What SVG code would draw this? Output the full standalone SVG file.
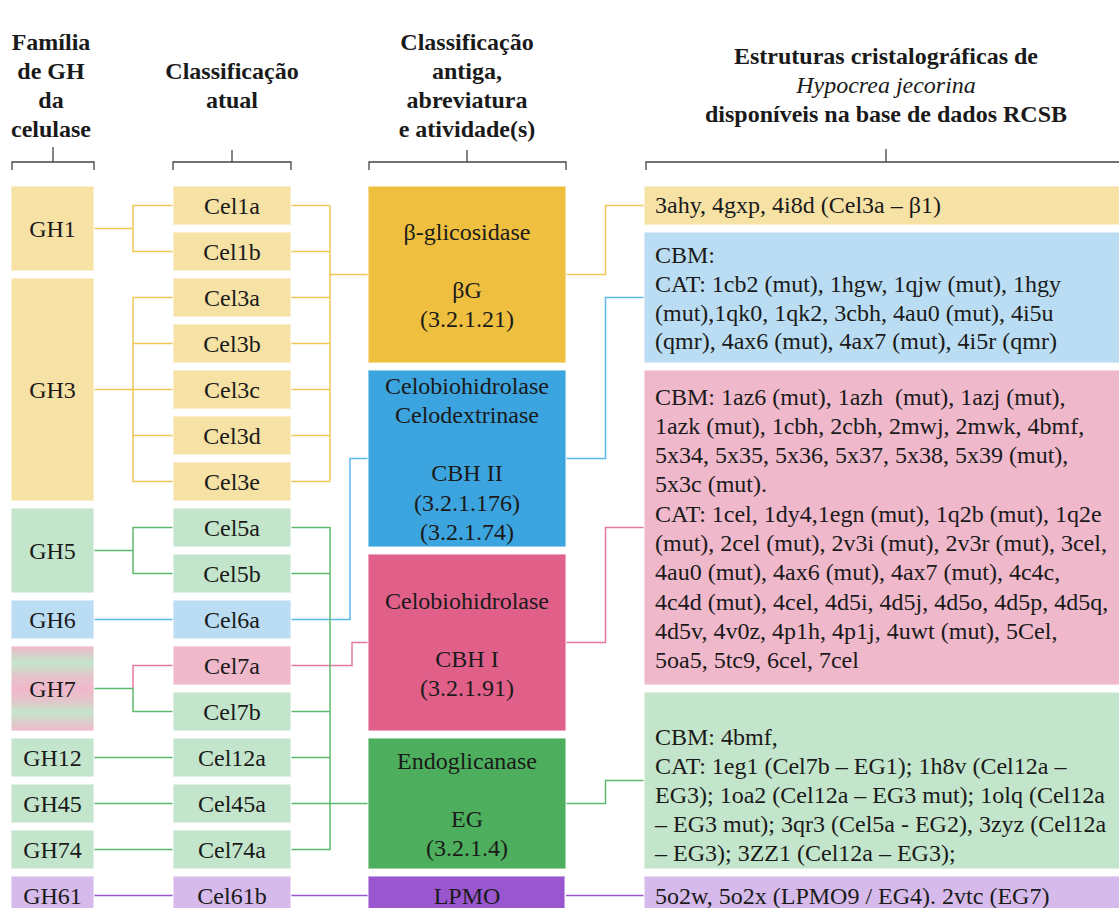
<svg xmlns="http://www.w3.org/2000/svg" width="1119" height="908" viewBox="0 0 1119 908">
<style>
text{font-family:"Liberation Serif","Tinos","DejaVu Serif",serif;font-size:24px;fill:#1a1a1a}
.h{font-weight:bold}
.c{text-anchor:middle}
.br{fill:none;stroke:#444;stroke-width:1.3}
.box{stroke:#fff;stroke-width:1.5;stroke-opacity:0.6}
.y1{fill:#F7E2A6}.y2{fill:#EFBF3F}
.b1{fill:#BADDF3}.b2{fill:#3CA4DF}
.p1{fill:#F0B8CB}.p2{fill:#E0608A}
.g1{fill:#C3E5CB}.g2{fill:#4DAE5D}
.v1{fill:#D6BAEB}.v2{fill:#9A56CE}
.ln{fill:none;stroke-width:1.5}
.ly{stroke:#F0C655}.lb{stroke:#5BB8EC}.lp{stroke:#E8799E}.lg{stroke:#5DBA6C}.lv{stroke:#9A56CE}
</style>
<defs>
<linearGradient id="gh7" x1="0" y1="0" x2="0" y2="1">
<stop offset="0" stop-color="#F0B8CB"/>
<stop offset="0.2" stop-color="#C3E5CB"/>
<stop offset="0.36" stop-color="#E4C4CB"/>
<stop offset="0.5" stop-color="#F0B8CB"/>
<stop offset="0.64" stop-color="#E4C4CB"/>
<stop offset="0.78" stop-color="#C3E5CB"/>
<stop offset="1" stop-color="#F0B8CB"/>
</linearGradient>
</defs>

<g id="headers">
<text class="h c" x="51" y="49.5">Família</text>
<text class="h c" x="51" y="78.5">de GH</text>
<text class="h c" x="51" y="107.5">da</text>
<text class="h c" x="51" y="136.5">celulase</text>
<text class="h c" x="232" y="78.5">Classificação</text>
<text class="h c" x="232" y="107.5">atual</text>
<text class="h c" x="467" y="49.5">Classificação</text>
<text class="h c" x="467" y="78.5">antiga,</text>
<text class="h c" x="467" y="107.5">abreviatura</text>
<text class="h c" x="467" y="136.5">e atividade(s)</text>
<text class="h c" x="886" y="63.5">Estruturas cristalográficas de</text>
<text class="c" x="886" y="92.5" font-style="italic">Hypocrea jecorina</text>
<text class="h c" x="886" y="121.5">disponíveis na base de dados RCSB</text>
<path class="br" d="M12 170V162H94V170M53 162V147"/>
<path class="br" d="M173 170V162H291V170M232 162V150"/>
<path class="br" d="M369 170V162H566V170M467 162V150"/>
<path class="br" d="M646 170V162H1119M886 162V149"/>
</g>

<g id="connectors">
<path class="ln ly" d="M94 228.5H133M173 205.5H133V251.5H173M94 389.5H173M173 297.5H133V481.5H173M133 343.5H173M133 435.5H173"/>
<path class="ln ly" d="M291 205.5H330M291 251.5H330M291 297.5H330M291 343.5H330M291 389.5H330M291 435.5H330M291 481.5H330M330 205.5V481.5M330 274.5H368M566 274.5H605.5V205.5H644"/>
<path class="ln lb" d="M94 619.5H173M291 619.5H350V458.5H368M566 458.5H605.5V297.5H644"/>
<path class="ln lp" d="M133 688.5V665.5H173M291 665.5H352V642.5H368M566 642.5H605.5V527.5H644"/>
<path class="ln lg" d="M94 550.5H133M173 527.5H133V573.5H173M94 688.5H133V711.5H173M94 757.5H173M94 803.5H173M94 849.5H173"/>
<path class="ln lg" d="M291 527.5H330V849.5H291M291 573.5H330M291 711.5H330M291 757.5H330M291 803.5H368M566 803.5H605.5V780.5H644"/>
<path class="ln lv" d="M94 895.5H173M291 895.5H368M566 895.5H644"/>
</g>

<g id="gh1"><rect class="box y1" x="11" y="186" width="83" height="85"/><text class="c" x="52.5" y="237">GH1</text></g>
<g id="gh3"><rect class="box y1" x="11" y="278" width="83" height="223"/><text class="c" x="52.5" y="398">GH3</text></g>
<g id="gh5"><rect class="box g1" x="11" y="508" width="83" height="85"/><text class="c" x="52.5" y="559">GH5</text></g>
<g id="gh6"><rect class="box b1" x="11" y="600" width="83" height="39"/><text class="c" x="52.5" y="628">GH6</text></g>
<g id="gh7"><rect class="box" fill="url(#gh7)" x="11" y="646" width="83" height="85"/><text class="c" x="52.5" y="697">GH7</text></g>
<g id="gh12"><rect class="box g1" x="11" y="738" width="83" height="39"/><text class="c" x="52.5" y="766">GH12</text></g>
<g id="gh45"><rect class="box g1" x="11" y="784" width="83" height="39"/><text class="c" x="52.5" y="812">GH45</text></g>
<g id="gh74"><rect class="box g1" x="11" y="830" width="83" height="39"/><text class="c" x="52.5" y="858">GH74</text></g>
<g id="gh61"><rect class="box v1" x="11" y="876" width="83" height="40"/><text class="c" x="52.5" y="904">GH61</text></g>

<g id="cel1a"><rect class="box y1" x="173" y="186" width="118" height="39"/><text class="c" x="232" y="214">Cel1a</text></g>
<g id="cel1b"><rect class="box y1" x="173" y="232" width="118" height="39"/><text class="c" x="232" y="260">Cel1b</text></g>
<g id="cel3a"><rect class="box y1" x="173" y="278" width="118" height="39"/><text class="c" x="232" y="306">Cel3a</text></g>
<g id="cel3b"><rect class="box y1" x="173" y="324" width="118" height="39"/><text class="c" x="232" y="352">Cel3b</text></g>
<g id="cel3c"><rect class="box y1" x="173" y="370" width="118" height="39"/><text class="c" x="232" y="398">Cel3c</text></g>
<g id="cel3d"><rect class="box y1" x="173" y="416" width="118" height="39"/><text class="c" x="232" y="444">Cel3d</text></g>
<g id="cel3e"><rect class="box y1" x="173" y="462" width="118" height="39"/><text class="c" x="232" y="490">Cel3e</text></g>
<g id="cel5a"><rect class="box g1" x="173" y="508" width="118" height="39"/><text class="c" x="232" y="536">Cel5a</text></g>
<g id="cel5b"><rect class="box g1" x="173" y="554" width="118" height="39"/><text class="c" x="232" y="582">Cel5b</text></g>
<g id="cel6a"><rect class="box b1" x="173" y="600" width="118" height="39"/><text class="c" x="232" y="628">Cel6a</text></g>
<g id="cel7a"><rect class="box p1" x="173" y="646" width="118" height="39"/><text class="c" x="232" y="674">Cel7a</text></g>
<g id="cel7b"><rect class="box g1" x="173" y="692" width="118" height="39"/><text class="c" x="232" y="720">Cel7b</text></g>
<g id="cel12a"><rect class="box g1" x="173" y="738" width="118" height="39"/><text class="c" x="232" y="766">Cel12a</text></g>
<g id="cel45a"><rect class="box g1" x="173" y="784" width="118" height="39"/><text class="c" x="232" y="812">Cel45a</text></g>
<g id="cel74a"><rect class="box g1" x="173" y="830" width="118" height="39"/><text class="c" x="232" y="858">Cel74a</text></g>
<g id="cel61b"><rect class="box v1" x="173" y="876" width="118" height="40"/><text class="c" x="232" y="904">Cel61b</text></g>

<g id="bg"><rect class="box y2" x="368" y="186" width="198" height="177"/>
<text class="c" x="467" y="240">β-glicosidase</text><text class="c" x="467" y="298">βG</text><text class="c" x="467" y="327">(3.2.1.21)</text></g>
<g id="cbh2"><rect class="box b2" x="368" y="370" width="198" height="177"/>
<text class="c" x="467" y="393.5">Celobiohidrolase</text><text class="c" x="467" y="422.8">Celodextrinase</text><text class="c" x="467" y="481.4">CBH II</text><text class="c" x="467" y="510.7">(3.2.1.176)</text><text class="c" x="467" y="540">(3.2.1.74)</text></g>
<g id="cbh1"><rect class="box p2" x="368" y="554" width="198" height="177"/>
<text class="c" x="467" y="608.5">Celobiohidrolase</text><text class="c" x="467" y="667">CBH I</text><text class="c" x="467" y="696">(3.2.1.91)</text></g>
<g id="eg"><rect class="box g2" x="368" y="738" width="198" height="131"/>
<text class="c" x="467" y="768.5">Endoglicanase</text><text class="c" x="467" y="827">EG</text><text class="c" x="467" y="856">(3.2.1.4)</text></g>
<g id="lpmo"><rect class="box v2" x="368" y="876" width="197" height="40"/><text class="c" x="467" y="904">LPMO</text></g>

<g id="s1"><rect class="box y1" x="644" y="186" width="480" height="39"/><text x="655" y="213">3ahy, 4gxp, 4i8d (Cel3a – β1)</text></g>
<g id="s2"><rect class="box b1" x="644" y="232" width="480" height="131"/>
<text x="655" y="263">CBM:</text>
<text x="655" y="291.8">CAT: 1cb2 (mut), 1hgw, 1qjw (mut), 1hgy</text>
<text x="655" y="320.6">(mut),1qk0, 1qk2, 3cbh, 4au0 (mut), 4i5u</text>
<text x="655" y="349.4">(qmr), 4ax6 (mut), 4ax7 (mut), 4i5r (qmr)</text></g>
<g id="s3"><rect class="box p1" x="644" y="370" width="480" height="315"/>
<text x="655" y="404.5" xml:space="preserve">CBM: 1az6 (mut), 1azh  (mut), 1azj (mut),</text>
<text x="655" y="433.8">1azk (mut), 1cbh, 2cbh, 2mwj, 2mwk, 4bmf,</text>
<text x="655" y="463.1">5x34, 5x35, 5x36, 5x37, 5x38, 5x39 (mut),</text>
<text x="655" y="492.4">5x3c (mut).</text>
<text x="655" y="521.7">CAT: 1cel, 1dy4,1egn (mut), 1q2b (mut), 1q2e</text>
<text x="655" y="551">(mut), 2cel (mut), 2v3i (mut), 2v3r (mut), 3cel,</text>
<text x="655" y="580.3">4au0 (mut), 4ax6 (mut), 4ax7 (mut), 4c4c,</text>
<text x="655" y="609.6">4c4d (mut), 4cel, 4d5i, 4d5j, 4d5o, 4d5p, 4d5q,</text>
<text x="655" y="638.9">4d5v, 4v0z, 4p1h, 4p1j, 4uwt (mut), 5Cel,</text>
<text x="655" y="668.2">5oa5, 5tc9, 6cel, 7cel</text></g>
<g id="s4"><rect class="box g1" x="644" y="692" width="480" height="177"/>
<text x="655" y="745">CBM: 4bmf,</text>
<text x="655" y="774">CAT: 1eg1 (Cel7b – EG1); 1h8v (Cel12a –</text>
<text x="655" y="803">EG3); 1oa2 (Cel12a – EG3 mut); 1olq (Cel12a</text>
<text x="655" y="832">– EG3 mut); 3qr3 (Cel5a - EG2), 3zyz (Cel12a</text>
<text x="655" y="861">– EG3); 3ZZ1 (Cel12a – EG3);</text></g>
<g id="s5"><rect class="box v1" x="644" y="876" width="480" height="40"/><text x="655" y="904">5o2w, 5o2x (LPMO9 / EG4). 2vtc (EG7)</text></g>
</svg>
